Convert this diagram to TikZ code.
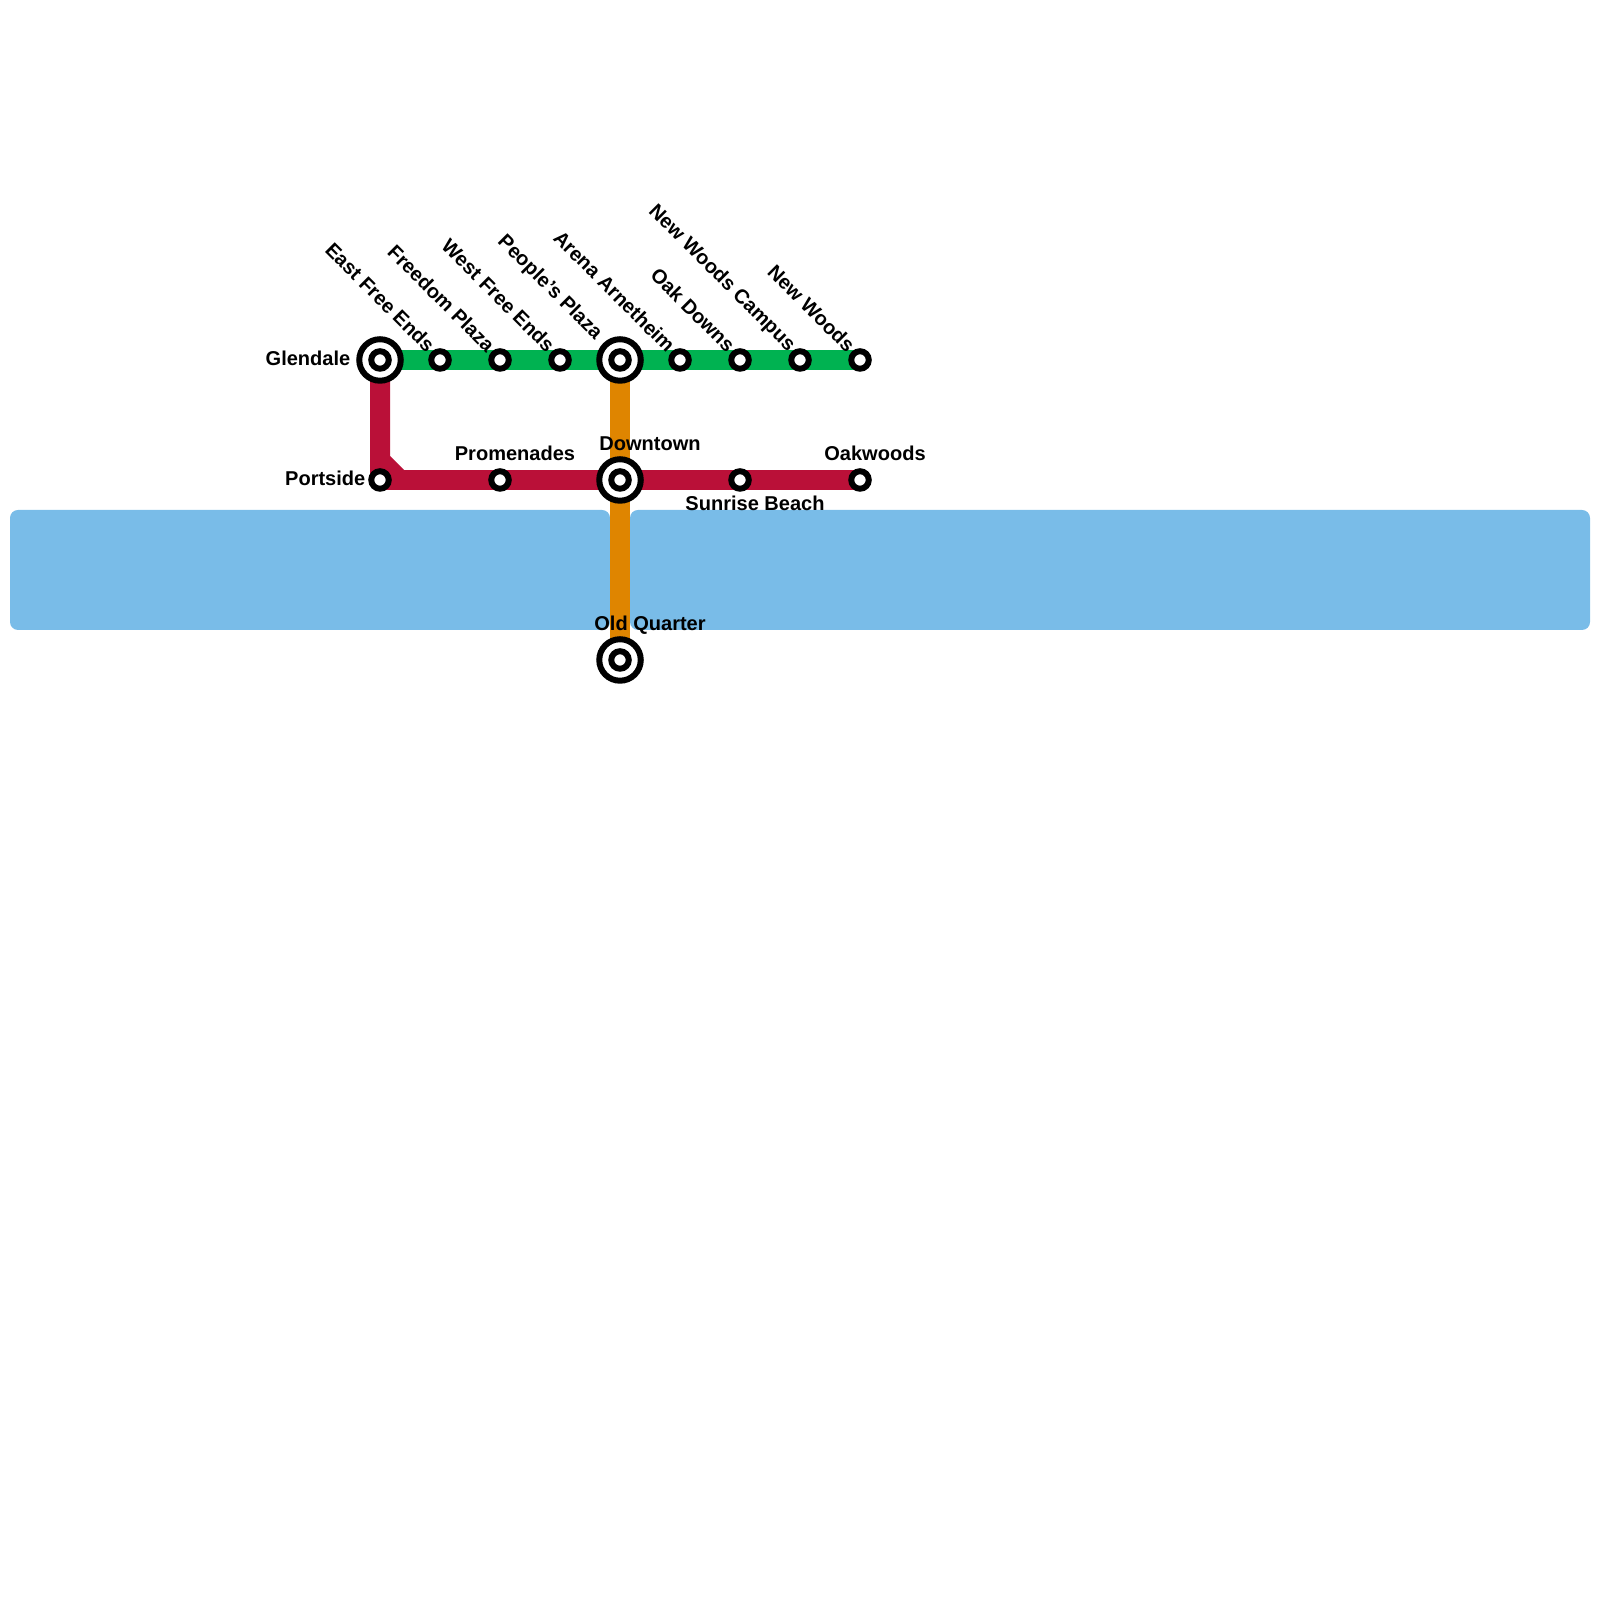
\documentclass[tikz,border=0pt]{standalone}
\usepackage{fontspec}
\setmainfont{Liberation Sans}
\usetikzlibrary{positioning, calc}
\pgfdeclarelayer{rails}
\pgfsetlayers{rails,main}
\definecolor{watercol}{HTML}{79BCE8}
\definecolor{greenline}{HTML}{00B251}
\definecolor{redline}{HTML}{BA1038}
\definecolor{orangeline}{HTML}{DF8500}
\tikzset{
    stop/.style={draw, circle, line width=0.06cm, minimum size=0.175cm, inner sep=0pt, outer sep=0pt, fill=white},
    hub/.style={draw, circle, line width=0.06cm, minimum size=0.415cm, inner sep=0pt, outer sep=0pt, fill=white},
    rail/.style={line width=0.2cm},
    water/.style={fill=watercol, rounded corners=0.08cm},
    lbl/.style={font=\fontsize{5.7pt}{6pt}\selectfont\bfseries, inner sep=0pt},
    slant/.style={lbl, anchor=east, rotate=-45, xshift=-0.135cm, yshift=0.021cm}
}
\begin{document}
\begin{tikzpicture}[node distance=0.6cm]
    \useasboundingbox (0,0) rectangle (16,16);

    % Stations
    \node[hub] (glendale) at (3.8,12.4) {};
    \node[stop] (eastfree) [right of=glendale] {};
    \node[stop] (freedom) [right of=eastfree] {};
    \node[stop] (westfree) [right of=freedom] {};
    \node[hub] (arena) [right of=westfree] {};
    \node[stop] (oakdowns) [right of=arena] {};
    \node[stop] (campus) [right of=oakdowns] {};
    \node[stop] (newwoodsc) [right of=campus] {};
    \node[stop] (newwoods) [right of=newwoodsc] {};
    \node[stop] (portside) [below of=glendale, yshift=-0.6cm] {};
    \node[coordinate] (bendtop) [above of=portside, yshift=-0.4cm] {};
    \node[coordinate] (bendend) [right of=portside, xshift=-0.4cm] {};
    \node[stop] (promenades) [below of=freedom, yshift=-0.6cm] {};
    \node[hub] (downtown) [below of=arena, yshift=-0.6cm] {};
    \node[stop] (sunrise) [below of=campus, yshift=-0.6cm] {};
    \node[stop] (oakwoods) [below of=newwoods, yshift=-0.6cm] {};
    \node[hub] (oldquarter) [below of=downtown, yshift=-1.2cm] {};
    \node[stop] (glendaledot) at (glendale) {};
    \node[stop] (arenadot) at (arena) {};
    \node[stop] (downtowndot) at (downtown) {};
    \node[stop] (oldquarterdot) at (oldquarter) {};

    % Water and lines
    \begin{pgfonlayer}{rails}
        \fill[water] (0.1,9.7) rectangle (6.1,10.9);
        \fill[water] (6.3,9.7) rectangle (15.9,10.9);
        \draw[rail, orangeline] (arena.center) -- (oldquarter.center);
        \draw[rail, greenline] (glendale.center) -- (newwoods.center);
        \draw[rail, redline] (glendale.center) -- (bendtop) -- (bendend);
        \draw[rail, redline] (portside.center) -- (oakwoods.center);
        \draw[rail, redline] (glendale.center) -- (portside.center);
    \end{pgfonlayer}

    % Labels
    \node[lbl, anchor=east] (lglendale) at ([xshift=-0.29cm,yshift=0.02cm]glendale.center) {Glendale};
    \node[lbl, anchor=east] (lportside) at ([xshift=-0.14cm,yshift=0.02cm]portside.center) {Portside};
    \node[lbl] (lpromenades) at ([xshift=0.15cm,yshift=0.27cm]promenades.center) {Promenades};
    \node[lbl] (ldowntown) at ([xshift=0.3cm,yshift=0.36cm]downtown.center) {Downtown};
    \node[lbl] (lsunrise) at ([xshift=0.15cm,yshift=-0.23cm]sunrise.center) {Sunrise Beach};
    \node[lbl] (loakwoods) at ([xshift=0.15cm,yshift=0.27cm]oakwoods.center) {Oakwoods};
    \node[lbl] (loldquarter) at ([xshift=0.3cm,yshift=0.35cm]oldquarter.center) {Old Quarter};
    \node[slant] (leastfree) at (eastfree.center) {East Free Ends};
    \node[slant] (lfreedom) at (freedom.center) {Freedom Plaza};
    \node[slant] (lwestfree) at (westfree.center) {West Free Ends};
    \node[slant, xshift=-0.174cm, yshift=-0.01cm] (lpeoples) at (arena.center) {People's Plaza};
    \node[slant] (larena) at (oakdowns.center) {Arena Arnetheim};
    \node[slant] (loakdowns) at (campus.center) {Oak Downs};
    \node[slant] (lcampus) at (newwoodsc.center) {New Woods Campus};
    \node[slant] (lnewwoods) at (newwoods.center) {New Woods};
\end{tikzpicture}
\end{document}
